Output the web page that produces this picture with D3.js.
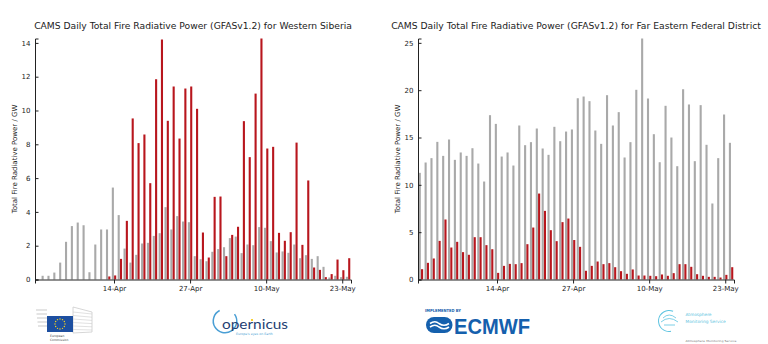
<!DOCTYPE html>
<html><head><meta charset="utf-8">
<script src="https://cdn.jsdelivr.net/npm/d3@7"></script>
<style>
html,body{margin:0;padding:0;background:#fff;}
svg{display:block;font-family:"DejaVu Sans",sans-serif;}
</style></head>
<body>
<svg id="chart" width="768" height="344"></svg>
<script>
// ---- data (daily values, 1 Apr .. 24 May 2021) ----
const startDate = "2021-04-01";
const endDate = "2021-05-24";
const tickLabels = ["2021-04-14", "2021-04-27", "2021-05-10", "2021-05-23"];

const titleWest = "CAMS Daily Total Fire Radiative Power (GFASv1.2) for Western Siberia";
const titleEast = "CAMS Daily Total Fire Radiative Power (GFASv1.2) for Far Eastern Federal District";
const yLabel = "Total Fire Radiative Power / GW";

// Western Siberia: grey = mean, red = 2021
const westMean = [0, 0.22, 0.22, 0.41, 1.0, 2.23, 3.16, 3.37, 3.21, 0.43, 2.07, 2.96, 2.96, 5.44, 3.81,
  1.83, 1.0, 1.46, 2.13, 2.17, 2.58, 2.74, 4.28, 2.96, 3.75, 3.43, 3.39, 1.38, 1.2, 1.08,
  1.64, 1.8, 1.91, 2.45, 2.54, 1.56, 2.07, 2.03, 3.1, 3.06, 2.27, 1.6, 1.66, 1.58, 2.07,
  1.26, 1.44, 1.22, 1.38, 0.75, 0.12, 0.22, 0.14, 0.16];
const west2021 = [0, 0, 0, 0, 0, 0, 0, 0, 0, 0, 0, 0, 0.18, 0.24, 1.22,
  3.47, 9.53, 8.07, 8.58, 5.7, 11.85, 14.2, 9.39, 11.42, 8.34, 11.3, 11.42, 10.1, 2.78, 1.3,
  4.89, 4.91, 1.38, 2.64, 3.12, 9.37, 7.24, 11.0, 14.26, 7.75, 7.85, 2.76, 2.29, 2.8, 8.1,
  2.05, 5.86, 0.71, 0.57, 0.14, 0.32, 1.18, 0.55, 1.26];
const westTicks = [0, 2, 4, 6, 8, 10, 12, 14];

// Far Eastern Federal District
const eastMean = [11.27, 12.36, 12.82, 14.54, 13.06, 14.79, 12.64, 13.42, 13.06, 13.87, 12.25, 10.35, 17.36, 16.44, 12.99,
  13.42, 12.04, 16.27, 14.19, 14.51, 15.95, 13.84, 13.17, 16.13, 14.61, 15.63, 15.85, 19.15, 19.33, 18.84,
  15.74, 14.33, 19.47, 16.27, 17.68, 12.89, 14.51, 20.04, 25.46, 19.12, 15.35, 12.39, 18.35, 15.0, 11.97,
  20.1, 18.49, 12.5, 18.42, 14.23, 8.03, 12.82, 17.43, 14.44];
const east2021 = [1.09, 1.76, 2.22, 4.08, 6.34, 3.38, 3.98, 2.89, 2.61, 4.47, 4.47, 3.63, 3.2, 0.7, 1.44,
  1.65, 1.62, 1.73, 3.73, 5.49, 9.08, 7.25, 5.21, 4.05, 6.06, 6.44, 4.17, 3.45, 0.92, 1.44,
  1.9, 1.62, 1.73, 1.3, 0.88, 0.6, 1.06, 0.42, 0.42, 0.39, 0.35, 0.53, 0.39, 0.67, 1.62,
  1.62, 1.34, 0.56, 0.39, 0.28, 0.28, 0.21, 0.49, 1.3];
const eastTicks = [0, 5, 10, 15, 20, 25];

// ---- drawing ----
const parse = d3.utcParse("%Y-%m-%d");
const days = d3.utcDay.range(parse(startDate), d3.utcDay.offset(parse(endDate), 1));
const svg = d3.select("#chart");
const GREY = "#a9a9a9", RED = "#b8161d";

function panel(opt) {
  const g = svg.append("g");
  const x0 = d3.utcHour.offset(parse(startDate), -12);
  const x1 = d3.utcHour.offset(parse(endDate), 12);
  const x = d3.scaleUtc().domain([x0, x1]).range([opt.left, opt.right]);
  const ymax = d3.max(opt.mean.concat(opt.cur));
  const y = d3.scaleLinear().domain([0, ymax]).range([279.5, 38.5]);
  const bw = 2.1;

  g.selectAll("rect.m").data(days).join("rect")
    .attr("x", (d) => x(d) - 1.15 - bw / 2)
    .attr("width", bw)
    .attr("y", (d, i) => y(opt.mean[i]))
    .attr("height", (d, i) => y(0) - y(opt.mean[i]))
    .attr("fill", GREY);
  g.selectAll("rect.c").data(days).join("rect")
    .attr("x", (d) => x(d) + 1.15 - bw / 2)
    .attr("width", bw)
    .attr("y", (d, i) => y(opt.cur[i]))
    .attr("height", (d, i) => y(0) - y(opt.cur[i]))
    .attr("fill", RED);

  const xa = g.append("g").attr("transform", `translate(0,${y(0)})`)
    .call(d3.axisBottom(x).tickValues(tickLabels.map(parse))
      .tickFormat(d3.utcFormat("%d-%b")).tickSizeOuter(0).tickSize(4).tickPadding(2.5));
  const ya = g.append("g").attr("transform", `translate(${opt.left},0)`)
    .call(d3.axisLeft(y).tickValues(opt.ticks).tickFormat(d3.format("d"))
      .tickSizeOuter(0).tickSize(-3.5).tickPadding(4.5));
  [xa, ya].forEach((a) => {
    a.select(".domain").attr("stroke", "#222").attr("stroke-width", 1);
    a.selectAll(".tick line").attr("stroke", "#222");
    a.selectAll("text").attr("font-size", 7).attr("fill", "#222")
      .attr("font-family", "DejaVu Sans, sans-serif");
  });

  g.append("text").attr("x", (opt.left + opt.right) / 2).attr("y", 28.5)
    .attr("text-anchor", "middle").attr("font-size", 9.2).attr("fill", "#222")
    .text(opt.title);
  g.append("text")
    .attr("transform", `translate(${opt.left - 18.5},159) rotate(-90)`)
    .attr("text-anchor", "middle").attr("font-size", 7).attr("fill", "#222")
    .text(yLabel);
}

panel({left: 35, right: 351, mean: westMean, cur: west2021, ticks: westTicks, title: titleWest});
panel({left: 418, right: 734, mean: eastMean, cur: east2021, ticks: eastTicks, title: titleEast});

// ---- logos (simplified) ----
const lg = svg.append("g");
// European Commission
const ec = lg.append("g");
[[38, 312], [40, 316], [42, 320], [44, 324], [46, 328]].forEach(([xx, yy], i) => {
  ec.append("line").attr("x1", 36 + i * 0.5).attr("x2", 47).attr("y1", yy - 2).attr("y2", yy - 2)
    .attr("stroke", "#bbb").attr("stroke-width", 0.8);
});
ec.append("path").attr("d", "M73,307 L92,312 L92,332 L73,333 Z").attr("fill", "none").attr("stroke", "#ccc").attr("stroke-width", 0.8);
for (let i = 0; i < 6; i++) {
  ec.append("line").attr("x1", 73).attr("x2", 92).attr("y1", 312 + i * 3.5).attr("y2", 314 + i * 3.2)
    .attr("stroke", "#ccc").attr("stroke-width", 0.6);
}
ec.append("rect").attr("x", 47).attr("y", 316).attr("width", 26).attr("height", 16).attr("fill", "#1d4fa0");
for (let k = 0; k < 12; k++) {
  const a = (k / 12) * 2 * Math.PI;
  ec.append("circle").attr("cx", 60 + 5 * Math.cos(a)).attr("cy", 324 + 5 * Math.sin(a)).attr("r", 0.7).attr("fill", "#ffd617");
}
ec.append("text").attr("x", 50).attr("y", 336.5).attr("font-size", 3).attr("fill", "#444").text("European");
ec.append("text").attr("x", 50).attr("y", 340.5).attr("font-size", 3).attr("fill", "#444").text("Commission");

// Copernicus
const cp = lg.append("g");
cp.append("path").attr("d", d3.arc()({innerRadius: 11, outerRadius: 12.5, startAngle: 0.3 * Math.PI, endAngle: 1.85 * Math.PI}))
  .attr("transform", "translate(225,321)").attr("fill", "#4a9fd5");
cp.append("text").attr("x", 222).attr("y", 329).attr("font-size", 13).attr("fill", "#1f3f73")
  .attr("font-family", "Lato, sans-serif").attr("textLength", 66).attr("lengthAdjust", "spacingAndGlyphs").text("opernicus");
cp.append("circle").attr("cx", 252).attr("cy", 320).attr("r", 1.1).attr("fill", "#f5c400");
cp.append("text").attr("x", 236).attr("y", 334.5).attr("font-size", 3.2).attr("fill", "#4a9fd5").text("Europe's eyes on Earth");

// ECMWF
const em = lg.append("g");
em.append("text").attr("x", 425).attr("y", 312).attr("font-size", 4.2).attr("font-weight", "bold")
  .attr("fill", "#1560ad").attr("textLength", 36).attr("lengthAdjust", "spacingAndGlyphs").text("IMPLEMENTED BY");
em.append("rect").attr("x", 426).attr("y", 317).attr("width", 26.5).attr("height", 16).attr("rx", 8).attr("fill", "#1560ad");
em.append("path").attr("d", "M430,323.5 Q435,320 439,323.5 Q444,327 449,323.5 M430,327 Q435,323.5 439,327 Q444,330.5 449,327")
  .attr("fill", "none").attr("stroke", "#fff").attr("stroke-width", 1.6);
em.append("text").attr("x", 454).attr("y", 333.5).attr("font-size", 22).attr("font-weight", "bold")
  .attr("font-family", "Liberation Sans, Arial, sans-serif").attr("fill", "#1560ad")
  .attr("textLength", 76).attr("lengthAdjust", "spacingAndGlyphs").text("ECMWF");

// CAMS
const cm = lg.append("g");
cm.append("path").attr("d", d3.arc()({innerRadius: 10, outerRadius: 11, startAngle: -1.55 * Math.PI / 2 - 0.9, endAngle: 0.4}))
  .attr("transform", "translate(669,321)").attr("fill", "#5cc3e0");
cm.append("path").attr("d", "M663,318 Q669,312 676,318 M661,322 Q669,315 678,322 M664,325 L675,325")
  .attr("fill", "none").attr("stroke", "#5cc3e0").attr("stroke-width", 0.8);
cm.append("text").attr("x", 685.5).attr("y", 316).attr("font-size", 4.3).attr("fill", "#5cc3e0").text("Atmosphere");
cm.append("text").attr("x", 685.5).attr("y", 322.5).attr("font-size", 4.3).attr("fill", "#5cc3e0").text("Monitoring Service");
cm.append("text").attr("x", 685.5).attr("y", 342).attr("font-size", 2.8).attr("fill", "#777")
  .attr("textLength", 51).attr("lengthAdjust", "spacingAndGlyphs").text("Atmosphere Monitoring Service");
</script>
</body></html>
